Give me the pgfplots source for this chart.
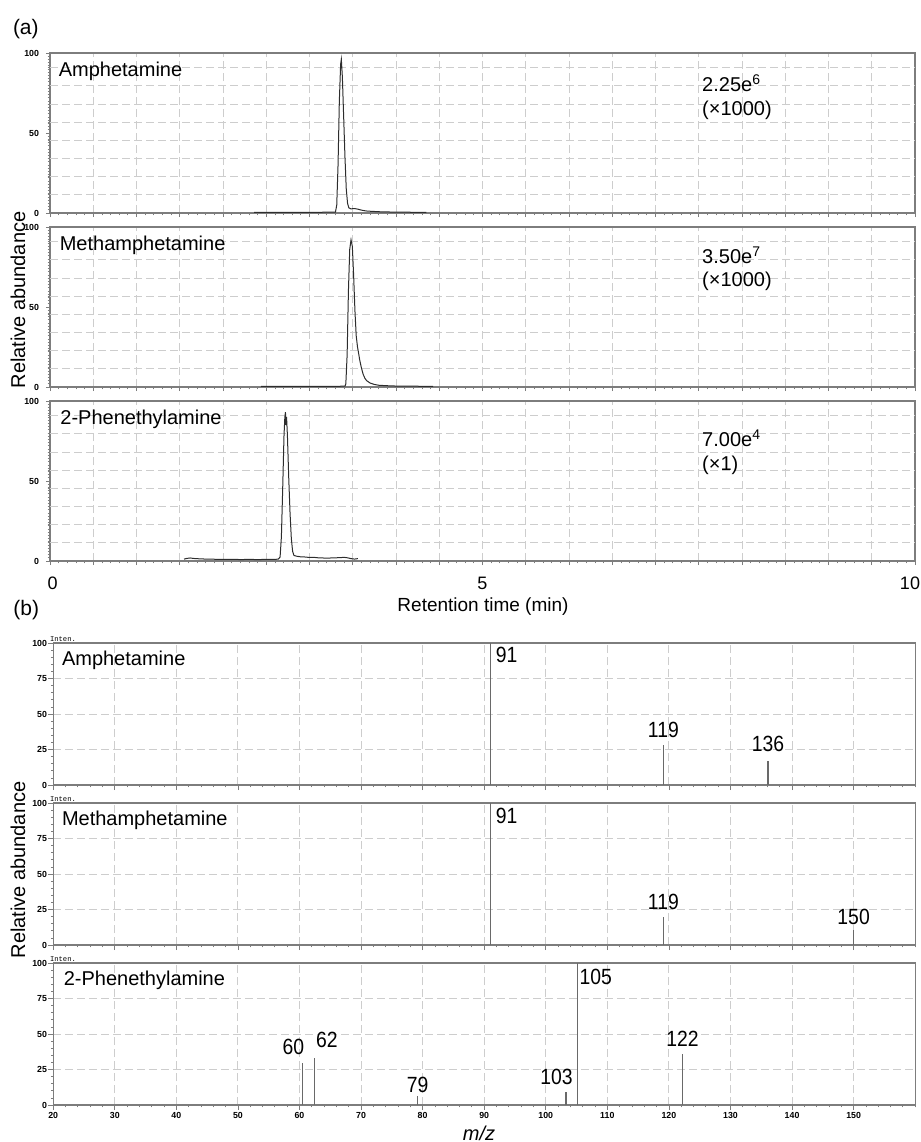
\documentclass[border=0pt]{standalone}
\usepackage{fontspec}
\setmainfont{Liberation Sans}
\setmonofont{Liberation Mono}
\newfontfamily\narrowfont[FakeStretch=0.88]{Liberation Sans}
\usepackage{pgfplots}
\pgfplotsset{compat=1.18}

\definecolor{framegray}{RGB}{125,125,125}
\definecolor{gridgray}{RGB}{205,205,205}
\definecolor{tracegray}{RGB}{45,45,45}
\definecolor{stickgray}{RGB}{105,105,105}

\pgfplotsset{
  base/.style={
    scale only axis, anchor=north west,
    ymin=0, ymax=100,
    axis line style={framegray, line width=0.6pt},
    tick style={framegray, line width=0.4pt},
    tick align=outside, xtick pos=lower, ytick pos=left,
    major tick length=2pt, minor tick length=1.2pt,
    major grid style={gridgray, dash pattern=on 4pt off 2pt, line width=0.45pt},
    /pgf/number format/assume math mode=true,
    ticklabel style={font=\fontsize{4.4}{5}\selectfont\bfseries, inner sep=1pt},
  },
  chrom/.style={base, width=432.5pt, height=80pt,
    xmin=0, xmax=10, xtick={0,0.5,...,10}, minor x tick num=4,
    xmajorgrids=true, ymajorgrids=false,
    ytick={0,50,100}, minor ytick={0,2,...,100},
    extra y ticks={11.35,22.7,34.05,45.4,56.75,68.1,79.45,90.8},
    extra y tick labels={},
    extra y tick style={grid=major, major tick length=1.2pt},
    xticklabels={}, yticklabel style={xshift=-2.3pt},
  },
  spec/.style={base, width=431pt, height=71pt, grid=major,
    xmin=20, xmax=160, xtick={20,30,...,150}, minor xtick={20,22,...,160},
    ytick={0,25,50,75,100}, minor y tick num=4, major tick length=2.5pt,
    xticklabels={}, yticklabel style={inner sep=0.4pt},
  },
  trace/.style={tracegray, line width=0.5pt, no markers},
  stick/.style={ycomb, stickgray, line width=0.6pt, no markers},
}
\tikzset{peak/.style={font=\narrowfont\fontsize{11}{12}\selectfont, inner sep=0pt}}

\begin{document}
\begin{tikzpicture}
\useasboundingbox (0,0) rectangle (460.5pt,-571pt);

% ---------------- (a) chromatograms ----------------
\begin{axis}[chrom, at={(25pt,-26.5pt)}]
\addplot[trace] coordinates {
(2.36,0.4) (2.6,0.4) (2.8,0.4) (3.0,0.4) (3.2,0.5) (3.30,0.6) (3.315,5)
(3.33,30) (3.345,70) (3.36,93) (3.368,96) (3.38,85) (3.395,60) (3.41,35)
(3.425,15) (3.44,6) (3.455,3.2) (3.48,2.6) (3.52,2.8) (3.56,2.4) (3.6,1.8)
(3.65,1.3) (3.7,1.1) (3.8,0.8) (3.95,0.6) (4.1,0.5) (4.35,0.4)};
\end{axis}

\begin{axis}[chrom, at={(25pt,-113.5pt)}]
\addplot[trace] coordinates {
(2.44,0.4) (2.8,0.4) (3.2,0.4) (3.41,0.5) (3.42,2) (3.435,20) (3.45,60)
(3.465,86) (3.48,92) (3.495,88) (3.51,70) (3.525,48) (3.54,32) (3.555,25)
(3.565,22) (3.58,17) (3.6,12) (3.62,8) (3.64,5.5) (3.66,4) (3.7,2.5)
(3.75,1.6) (3.8,1.1) (3.9,0.8) (4.0,0.6) (4.2,0.5) (4.43,0.4)};
\end{axis}

\begin{axis}[chrom, at={(25pt,-200.5pt)},
  xticklabels={{\hspace*{2.7pt}0},,,,,,,,,,5,,,,,,,,,,{10\hspace*{5pt}}},
  xticklabel style={font=\fontsize{9}{10}\selectfont, yshift=-4.8pt}]
\addplot[trace] coordinates {
(1.55,1.2) (1.58,1.6) (1.62,1.9) (1.66,1.6) (1.72,1.4) (1.8,1.2) (1.9,1.1)
(2.0,1.0) (2.1,1.1) (2.2,0.9) (2.3,1.0) (2.4,0.9) (2.5,1.0) (2.6,1.0)
(2.64,1.2) (2.66,2.5) (2.675,15) (2.69,45) (2.705,78) (2.715,90) (2.722,93)
(2.728,85) (2.735,90) (2.745,78) (2.76,52) (2.775,30) (2.79,14) (2.805,6)
(2.82,3.5) (2.85,3.0) (2.9,2.6) (2.95,2.5) (3.0,2.2) (3.05,2.3) (3.1,2.0)
(3.15,1.9) (3.2,1.8) (3.25,1.9) (3.3,2.0) (3.35,2.1) (3.4,2.3) (3.44,2.0)
(3.48,1.5) (3.52,1.2) (3.56,1.5)};
\end{axis}

% ---------------- (b) mass spectra ----------------
\begin{axis}[spec, at={(26.6pt,-321.5pt)}]
\addplot[stick] coordinates {(91,100) (119.1,28.2) (136.1,17.2)};
\node[peak, anchor=north west, xshift=2.5pt, yshift=-2pt] at (axis cs:91,100) {91};
\node[peak, anchor=south, yshift=3.5pt] at (axis cs:119.1,28.2) {119};
\node[peak, anchor=south, yshift=4pt] at (axis cs:136.1,17.2) {136};
\end{axis}

\begin{axis}[spec, at={(26.6pt,-401.5pt)}]
\addplot[stick] coordinates {(91,100) (119.1,20.0) (150,10.6)};
\node[peak, anchor=north west, xshift=2.5pt, yshift=-2.5pt] at (axis cs:91,100) {91};
\node[peak, anchor=south, yshift=3pt] at (axis cs:119.1,20.0) {119};
\node[peak, anchor=south, yshift=2.5pt] at (axis cs:150,10.6) {150};
\end{axis}

\begin{axis}[spec, at={(26.6pt,-481.5pt)},
  xticklabels={20,30,40,50,60,70,80,90,100,110,120,130,140,150}]
\addplot[stick] coordinates {(60.5,29.3) (62.4,32.8) (79.2,6.3) (103.3,8.9) (105.1,100) (122.2,35.8)};
\node[peak, anchor=south, xshift=-4.6pt, yshift=4pt] at (axis cs:60.5,29.3) {60};
\node[peak, anchor=south, xshift=6.3pt, yshift=5pt] at (axis cs:62.4,32.8) {62};
\node[peak, anchor=south, yshift=1.4pt] at (axis cs:79.2,6.3) {79};
\node[peak, anchor=south, xshift=-4.75pt, yshift=3.6pt] at (axis cs:103.3,8.9) {103};
\node[peak, anchor=north west, xshift=1pt, yshift=-3pt] at (axis cs:105.1,100) {105};
\node[peak, anchor=south, yshift=3.6pt] at (axis cs:122.2,35.8) {122};
\end{axis}

% ---------------- texts ----------------
\begin{scope}[every node/.style={inner sep=0pt, font=\fontsize{10}{12}\selectfont}]
\node[anchor=base west, font=\fontsize{10.5}{12}\selectfont] at (6.3pt,-17pt) {(a)};
\node[anchor=base west, font=\fontsize{10.5}{12}\selectfont] at (6.5pt,-307.5pt) {(b)};

\node[anchor=base west] at (29.2pt,-38pt) {Amphetamine};
\node[anchor=base west] at (29.7pt,-125pt) {Methamphetamine};
\node[anchor=base west] at (30pt,-212.2pt) {2-Phenethylamine};

\node[anchor=base west] at (350.9pt,-45.8pt) {2.25e\textsuperscript{6}};
\node[anchor=base west] at (350.9pt,-57.5pt) {(×1000)};
\node[anchor=base west] at (350.9pt,-131.7pt) {3.50e\textsuperscript{7}};
\node[anchor=base west] at (350.9pt,-143.3pt) {(×1000)};
\node[anchor=base west] at (350.9pt,-223.3pt) {7.00e\textsuperscript{4}};
\node[anchor=base west] at (350.9pt,-235pt) {(×1)};

\node[font=\fontsize{9.5}{11}\selectfont] at (241.5pt,-303.5pt) {Retention time (min)};
\node[rotate=90] at (9pt,-150pt) {Relative abundance};

\node[anchor=base west] at (30.8pt,-332.5pt) {Amphetamine};
\node[anchor=base west] at (30.8pt,-412.5pt) {Methamphetamine};
\node[anchor=base west] at (31.7pt,-492.8pt) {2-Phenethylamine};

\node[anchor=south west, font=\ttfamily\fontsize{3.6}{4}\selectfont] at (24.8pt,-321.2pt) {Inten.};
\node[anchor=south west, font=\ttfamily\fontsize{3.6}{4}\selectfont] at (24.8pt,-401.2pt) {Inten.};
\node[anchor=south west, font=\ttfamily\fontsize{3.6}{4}\selectfont] at (24.8pt,-481.2pt) {Inten.};

\node[rotate=90] at (9pt,-435pt) {Relative abundance};
\node[font=\itshape\fontsize{10}{12}\selectfont] at (239.5pt,-566.5pt) {m/z};
\end{scope}
\end{tikzpicture}
\end{document}
